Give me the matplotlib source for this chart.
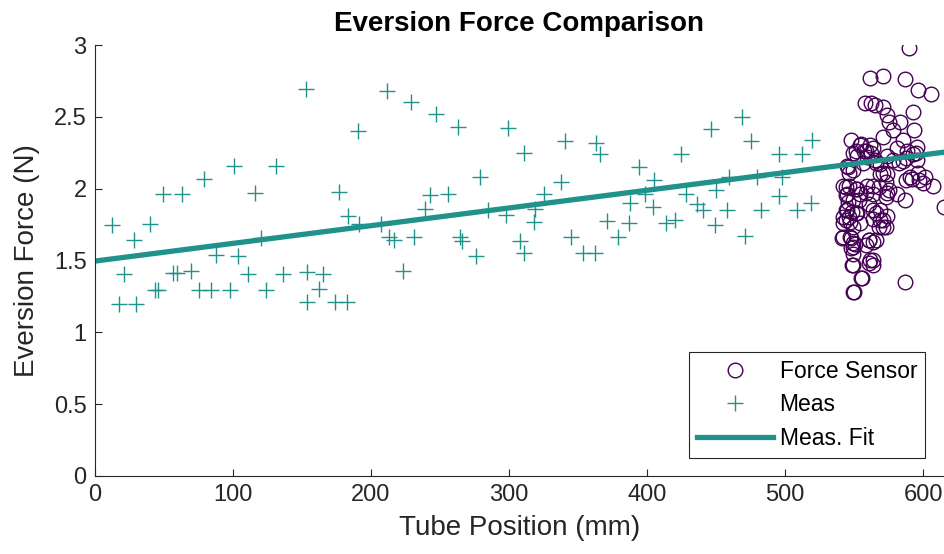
import numpy as np
import matplotlib.pyplot as plt

plt.rcParams['font.family'] = ['Liberation Sans', 'DejaVu Sans']

# Force sensor readings near the end of the tube
sensor_x = [590.1, 561.6, 570.8, 587.0, 596.6, 605.8, 558.2, 562.0, 565.4, 571.2,
            574.1, 593.0, 575.5, 583.2, 593.5, 578.4, 571.2, 585.7, 580.8, 588.1,
            595.3, 593.0, 573.6, 578.4, 585.7, 595.3, 582.6, 587.4, 594.6, 592.2,
            597.0, 590.6, 596.7, 601.5, 607.5, 600.0, 615.0, 587.0, 587.7, 580.8,
            587.0,
            547.6, 554.4, 555.0, 557.2, 549.5, 551.4, 552.0, 559.3, 544.8, 545.4,
            549.6, 546.6, 542.3, 546.0, 552.0, 544.2, 551.4, 544.8, 549.6, 554.4,
            544.2, 545.4, 553.9, 544.8, 548.4, 552.0, 544.2, 541.8, 546.6, 551.4,
            544.2, 542.3, 547.2, 554.4, 549.0, 541.0, 541.8, 547.2, 547.8, 549.0,
            550.8, 549.6, 547.8, 549.0, 548.4, 549.1, 555.6, 555.0, 549.6, 550.2,
            562.3, 558.7, 561.6, 564.0, 556.3, 566.0, 565.3, 568.8, 570.8, 573.6,
            568.8, 573.2, 564.0, 559.3, 568.4, 575.6, 558.7, 564.0, 573.6, 573.2,
            561.1, 563.5, 568.8, 566.0, 573.6, 564.0, 568.8, 570.8, 571.2, 573.2,
            568.4, 561.1, 561.1, 566.0, 564.0, 558.7, 561.6, 563.5, 561.1, 564.0]
sensor_y = [2.976, 2.767, 2.784, 2.760, 2.686, 2.658, 2.593, 2.598, 2.582, 2.566,
            2.512, 2.535, 2.466, 2.466, 2.408, 2.408, 2.361, 2.338, 2.286, 2.260,
            2.290, 2.240, 2.230, 2.200, 2.190, 2.200, 2.176, 2.210, 2.245, 2.070,
            2.060, 2.083, 2.106, 2.083, 2.020, 2.040, 1.874, 1.920, 2.060, 1.960,
            1.348,
            2.338, 2.303, 2.310, 2.260, 2.250, 2.260, 2.230, 2.220, 2.160, 2.153,
            2.130, 2.106, 2.020, 2.020, 2.000, 2.013, 2.000, 1.960, 1.920, 1.960,
            1.955, 1.909, 1.920, 1.850, 1.840, 1.830, 1.850, 1.800, 1.800, 1.830,
            1.780, 1.760, 1.770, 1.760, 1.735, 1.654, 1.665, 1.665, 1.654, 1.620,
            1.618, 1.595, 1.590, 1.548, 1.469, 1.468, 1.376, 1.376, 1.283, 1.283,
            2.250, 2.260, 2.303, 2.280, 2.176, 2.176, 2.200, 2.170, 2.106, 2.100,
            2.100, 2.048, 2.020, 2.020, 2.010, 1.990, 1.970, 1.960, 1.970, 1.940,
            1.896, 1.850, 1.850, 1.830, 1.810, 1.790, 1.780, 1.780, 1.730, 1.735,
            1.735, 1.643, 1.642, 1.643, 1.630, 1.608, 1.503, 1.503, 1.480, 1.468]

# Measured eversion force along the tube
meas_x = [12.1, 28.5, 40.1, 49.3, 63.3, 78.7, 101.0, 116.0, 21.3, 17.4,
          29.5, 43.5, 45.5, 56.5, 59.5, 69.6, 75.4, 84.0, 97.6, 87.4,
          103.9, 110.6, 152.9, 211.8, 190.6, 131.2, 177.0, 183.3, 191.1, 207.0,
          213.3, 216.7, 120.1, 136.5, 153.9, 165.5, 162.5, 123.9, 153.9, 173.9,
          182.8, 223.0, 229.0, 246.9, 263.3, 299.5, 310.9, 279.0, 243.0, 255.6,
          239.1, 325.1, 285.0, 298.0, 318.8, 318.4, 231.4, 264.7, 265.7, 308.0,
          310.9, 276.0, 340.3, 363.0, 366.0, 394.4, 405.0, 338.0, 398.8, 387.7,
          404.1, 370.8, 387.2, 413.8, 344.7, 379.0, 353.4, 362.5, 424.9, 446.2,
          468.8, 475.1, 495.4, 512.3, 519.6, 428.3, 450.0, 459.6, 480.0, 497.8,
          495.4, 436.5, 440.4, 458.2, 482.8, 508.5, 519.1, 420.0, 449.0, 470.8]
meas_y = [1.747, 1.642, 1.754, 1.960, 1.960, 2.067, 2.160, 1.970, 1.404, 1.200,
          1.200, 1.294, 1.294, 1.410, 1.410, 1.429, 1.294, 1.294, 1.294, 1.538,
          1.534, 1.406, 2.693, 2.681, 2.400, 2.157, 1.974, 1.809, 1.754, 1.754,
          1.665, 1.642, 1.654, 1.406, 1.422, 1.406, 1.301, 1.294, 1.209, 1.210,
          1.210, 1.429, 2.605, 2.517, 2.426, 2.419, 2.245, 2.078, 1.958, 1.960,
          1.856, 1.960, 1.851, 1.816, 1.856, 1.770, 1.665, 1.665, 1.637, 1.637,
          1.550, 1.531, 2.334, 2.320, 2.240, 2.153, 2.060, 2.048, 1.962, 1.898,
          1.874, 1.777, 1.758, 1.758, 1.665, 1.665, 1.554, 1.550, 2.240, 2.417,
          2.496, 2.329, 2.240, 2.240, 2.338, 1.962, 1.990, 2.083, 2.083, 2.083,
          1.949, 1.893, 1.851, 1.851, 1.851, 1.851, 1.902, 1.780, 1.749, 1.670]

# Linear fit through the measurements (end points)
fit_x = [0, 620]
fit_y = [1.496, 2.260]

purple = '#440154'
teal = '#21918c'
dark = '#262626'

fig = plt.figure(figsize=(9.44, 5.54), dpi=100)
ax = fig.add_axes([95 / 944, 78 / 554, 1 - 95 / 944, (476 - 45) / 554])

ax.plot(sensor_x, sensor_y, 'o', ms=10.5, mfc='none', mec=purple, mew=1.0,
        label='Force Sensor')
ax.plot(meas_x, meas_y, '+', ms=11, color=teal, mew=1.0, label='Meas')
ax.plot(fit_x, fit_y, '-', color=teal, lw=3.8, label='Meas. Fit')

ax.set_xlim(0, 615.2)
ax.set_ylim(0, 3)
ax.set_xticks([0, 100, 200, 300, 400, 500, 600])
ax.set_yticks([0, 0.5, 1, 1.5, 2, 2.5, 3])
ax.set_yticklabels(['0', '0.5', '1', '1.5', '2', '2.5', '3'])

for side in ['top', 'right']:
    ax.spines[side].set_visible(False)
for side in ['left', 'bottom']:
    ax.spines[side].set_color(dark)
    ax.spines[side].set_linewidth(0.8)
ax.tick_params(direction='in', length=5, width=0.8, color=dark,
               labelcolor=dark, labelsize=17, pad=6)

ax.set_xlabel('Tube Position (mm)', fontsize=20, color=dark, labelpad=6)
ax.set_ylabel('Eversion Force (N)', fontsize=20, color=dark, labelpad=10)
ax.set_title('Eversion Force Comparison', fontsize=20, fontweight='bold',
             color='black', pad=10)

leg = ax.legend(loc='upper left', bbox_to_anchor=(689 / 944, 1 - 352 / 554),
                bbox_transform=fig.transFigure, borderaxespad=0,
                fontsize=16.5, frameon=True, fancybox=False, framealpha=1,
                edgecolor=dark, borderpad=0.35, labelspacing=0.45,
                handlelength=3.3, handletextpad=0.3)
leg.get_frame().set_linewidth(0.8)

fig.savefig('out.png', dpi=100)
